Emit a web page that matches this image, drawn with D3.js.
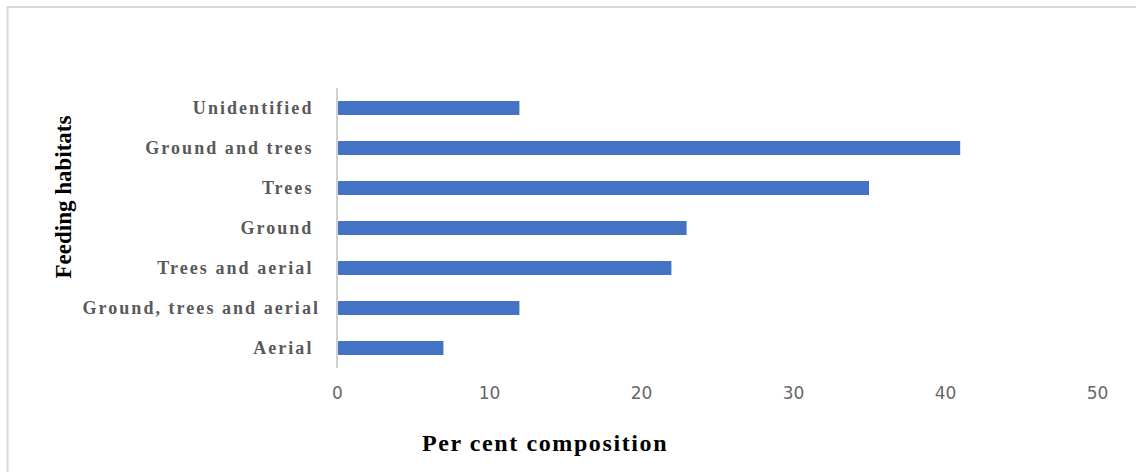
<!DOCTYPE html>
<html>
<head>
<meta charset="utf-8">
<script src="https://cdn.jsdelivr.net/npm/d3@7"></script>
<style>
  body { margin: 0; background: #fff; }
  svg { display: block; }
</style>
</head>
<body>
<div id="chart"></div>
<script>
// categories top to bottom, as they appear on the chart (trailing spaces come from the original labels)
const habitats = ['Unidentified ', 'Ground and trees ', 'Trees ', 'Ground ', 'Trees and aerial ', 'Ground, trees and aerial', 'Aerial '];
const percents = [12, 41, 35, 23, 22, 12, 7];
const xTicks = [0, 10, 20, 30, 40, 50];

const width = 1136;
const height = 472;
const margin = {top: 88, right: 39, bottom: 104, left: 337};

const svg = d3.select('#chart').append('svg')
  .attr('width', width)
  .attr('height', height);

// outer chart frame
svg.append('rect')
  .attr('x', 7.5)
  .attr('y', 7)
  .attr('width', width + 20)
  .attr('height', height + 20)
  .attr('fill', 'none')
  .attr('stroke', '#d9d9d9')
  .attr('stroke-width', 2);

const x = d3.scaleLinear()
  .domain([0, 50])
  .range([margin.left, width - margin.right]);

const y = d3.scaleBand()
  .domain(habitats)
  .range([margin.top, height - margin.bottom])
  .paddingInner(0.65)
  .paddingOuter(0.325);

// bars
svg.append('g')
  .selectAll('rect')
  .data(habitats)
  .join('rect')
    .attr('x', x(0))
    .attr('y', d => y(d))
    .attr('width', (d, i) => x(percents[i]) - x(0))
    .attr('height', y.bandwidth())
    .attr('fill', '#4472c4');

// vertical category axis line
svg.append('line')
  .attr('x1', x(0))
  .attr('x2', x(0))
  .attr('y1', margin.top)
  .attr('y2', height - margin.bottom)
  .attr('stroke', '#d0d0d0')
  .attr('stroke-width', 2);

// category labels
svg.append('g')
  .attr('font-family', '"Liberation Serif", "Times New Roman", serif')
  .attr('font-weight', 'bold')
  .attr('font-size', 18)
  .attr('fill', '#595959')
  .attr('text-anchor', 'end')
  .style('letter-spacing', '2.05px')
  .selectAll('text')
  .data(habitats)
  .join('text')
    .attr('xml:space', 'preserve')
    .style('white-space', 'pre')
    .attr('x', 320)
    .attr('y', d => y(d) + y.bandwidth() / 2)
    .attr('dy', '0.36em')
    .text(d => d);

// value axis (labels only)
const xAxis = d3.axisBottom(x)
  .tickValues(xTicks)
  .tickSize(0)
  .tickPadding(0);

const gx = svg.append('g')
  .attr('transform', `translate(0, ${399})`)
  .call(xAxis);
gx.select('.domain').remove();
gx.selectAll('text')
  .attr('dy', 0)
  .attr('font-family', '"DejaVu Sans", sans-serif')
  .attr('font-size', 17)
  .attr('fill', '#666');

// axis titles
svg.append('text')
  .attr('x', 545)
  .attr('y', 451)
  .attr('text-anchor', 'middle')
  .attr('font-family', '"Liberation Serif", "Times New Roman", serif')
  .attr('font-weight', 'bold')
  .attr('font-size', 24)
  .style('letter-spacing', '1.6px')
  .attr('fill', '#000')
  .text('Per cent composition');

svg.append('text')
  .attr('transform', `translate(71, 197) rotate(-90)`)
  .attr('text-anchor', 'middle')
  .attr('font-family', '"Liberation Serif", "Times New Roman", serif')
  .attr('font-weight', 'bold')
  .attr('font-size', 23)
  .attr('fill', '#000')
  .text('Feeding habitats');
</script>
</body>
</html>
